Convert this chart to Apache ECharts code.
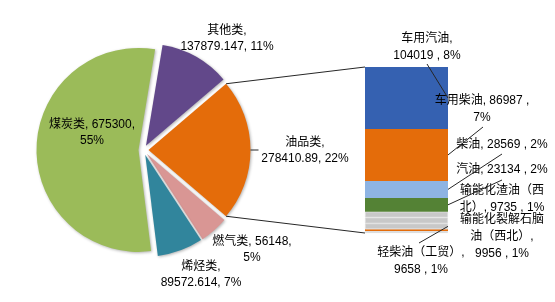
<!DOCTYPE html>
<html><head><meta charset="utf-8">
<script src="https://cdn.jsdelivr.net/npm/echarts@6/dist/echarts.min.js"></script>
<style>html,body{margin:0;padding:0;background:#fff}#c{width:555px;height:302px}</style>
</head><body><div id="c"></div>
<script>
// ---- data ----
const pieNames  = ['其他类', '油品类', '燃气类', '烯烃类', '煤炭类'];
const pieValues = [137879.147, 278410.89, 56148, 89572.614, 675300];
const piePct    = ['11%', '22%', '5%', '7%', '55%'];

const barNames  = ['车用汽油', '车用柴油', '柴油', '汽油', '输能化渣油（西北）', '输能化裂解石脑油（西北）', '轻柴油（工贸）', '其他1', '其他2'];
const barValues = [104019, 86987, 28569, 23134, 9735, 9956, 9658, 3000, 3352.89];
const barPct    = ['8%', '7%', '2%', '2%', '1%', '1%', '1%', '', ''];

// ---- display / style ----
const FONT = "'Liberation Sans','Noto Sans CJK SC',sans-serif";
const pieColors = ['#62488A', '#E46C0A', '#D99694', '#31859C', '#9BBB59'];
const barColors = ['#3561B1', '#E46C0A', '#8EB4E3', '#548235', '#C8C8C8', '#C8C8C8', '#C8C8C8', '#E46C0A', '#C8C8C8'];
const pieBreak = [1, 1, 2, 1, 2]; // 1: break after name, 2: break after value
const pieLabelPos = [[227, 23], [305, 135], [252, 234], [201, 259], [92, 117]];
const barLabelNames = ['车用汽油', '车用柴油', '柴油', '汽油', '输能化渣油（西\n北）', '输能化裂解石脑\n油（西北）', '轻柴油（工贸）', '', ''];
const barBreak = [1, 2, 0, 0, 0, 1, 1, 0, 0];
const barLabelPos = [[427, 30], [482, 92], [502, 136], [502, 161], [502, 182], [502, 211], [421, 244], null, null];
const barLineEnd = [[427, 64], [483, 127], [502, 154], [502, 180], null, null, [419, 243], null, null];

const PIE_C = [143.5, 150], PIE_R = 102, EXPLODE = 5;
const GRID = {left: 365, top: 67, width: 83, height: 166};

const chart = echarts.init(document.getElementById('c'), null, {renderer: 'canvas'});

const pieTotal = pieValues.reduce((a, b) => a + b, 0);
const fr = pieValues.map(v => v / pieTotal);
const compassStart = 90 - fr[1] * 180 - fr[0] * 360;
const startAngle = 90 - compassStart;
let acc = compassStart;
const sliceStart = [], sliceEnd = [];
fr.forEach(f => { sliceStart.push(acc); acc += f * 360; sliceEnd.push(acc); });
function pt(c, r, deg) { const a = deg * Math.PI / 180; return [c[0] + r * Math.sin(a), c[1] - r * Math.cos(a)]; }
const sliceCenters = fr.map((f, i) => pt(PIE_C, EXPLODE, (sliceStart[i] + sliceEnd[i]) / 2));

function pieText(i) {
  const b = pieBreak[i];
  return pieNames[i] + ',' + (b === 1 ? '\n' : ' ') + pieValues[i] + ',' + (b === 2 ? '\n' : ' ') + piePct[i];
}
function barText(i) {
  const b = barBreak[i];
  return barLabelNames[i] + ',' + (b === 1 ? '\n' : ' ') + barValues[i] + ' ,' + (b === 2 ? '\n' : ' ') + barPct[i];
}

const textStyle = {color: '#000', fontSize: 12, lineHeight: 17, fontFamily: FONT, align: 'center'};

const series = [];
pieNames.forEach((n, i) => {
  series.push({
    type: 'pie', silent: true, animation: false,
    center: sliceCenters[i], radius: PIE_R, startAngle: startAngle, clockwise: true,
    avoidLabelOverlap: false,
    itemStyle: {shadowBlur: 3, shadowColor: 'rgba(0,0,0,0.3)', shadowOffsetX: 1, shadowOffsetY: 1},
    labelLine: {show: false},
    label: Object.assign({show: true, position: 'outside', formatter: pieText(i)}, textStyle, {lineHeight: 16}),
    labelLayout: {x: pieLabelPos[i][0], y: pieLabelPos[i][1], align: 'center', verticalAlign: 'top', hideOverlap: false},
    data: pieNames.map((nm, j) => ({
      name: nm, value: pieValues[j],
      itemStyle: j === i ? {color: pieColors[j]} : {opacity: 0},
      label: {show: j === i},
      labelLine: {show: false}
    }))
  });
});

const barTotal = barValues.reduce((a, b) => a + b, 0);
for (let i = barNames.length - 1; i >= 0; i--) {
  const isGray = barColors[i] === '#C8C8C8';
  series.push({
    type: 'bar', name: barNames[i], stack: 'oil', silent: true, animation: false,
    barWidth: '100%',
    itemStyle: {color: barColors[i], borderColor: isGray ? '#dcdcdc' : barColors[i], borderWidth: isGray ? 0.8 : 0},
    label: barLabelPos[i] ? Object.assign({show: true, position: 'inside', formatter: barText(i)}, textStyle) : {show: false},
    labelLayout: barLabelPos[i] ? {x: barLabelPos[i][0], y: barLabelPos[i][1], align: 'center', verticalAlign: 'top'} : undefined,
    data: [barValues[i]]
  });
}

chart.setOption({
  animation: false,
  grid: GRID,
  xAxis: {type: 'category', data: ['油品类'], show: false},
  yAxis: {type: 'value', min: 0, max: barTotal, show: false},
  series: series
});

// connector lines
const lineStyle = {stroke: '#262626', lineWidth: 1};
const graphics = [];
function addLine(p1, p2) {
  graphics.push({type: 'line', z: 100, silent: true, shape: {x1: p1[0], y1: p1[1], x2: p2[0], y2: p2[1]}, style: lineStyle});
}
// pie -> bar
addLine(pt(sliceCenters[1], PIE_R, sliceStart[1]), [GRID.left, GRID.top]);
addLine(pt(sliceCenters[1], PIE_R, sliceEnd[1]), [GRID.left, GRID.top + GRID.height]);
// 油品类 leader
const oilMid = pt(sliceCenters[1], PIE_R, 90);
addLine(oilMid, [oilMid[0] + 8, oilMid[1]]);
// bar leaders
let cum = 0;
const mids = new Array(barValues.length);
for (let i = barValues.length - 1; i >= 0; i--) { mids[i] = cum + barValues[i] / 2; cum += barValues[i]; }
barLineEnd.forEach((e, i) => {
  if (!e) return;
  const y = chart.convertToPixel({yAxisIndex: 0}, mids[i]);
  addLine([GRID.left + GRID.width, y], e);
});
chart.setOption({graphic: graphics});
</script>
</body></html>
